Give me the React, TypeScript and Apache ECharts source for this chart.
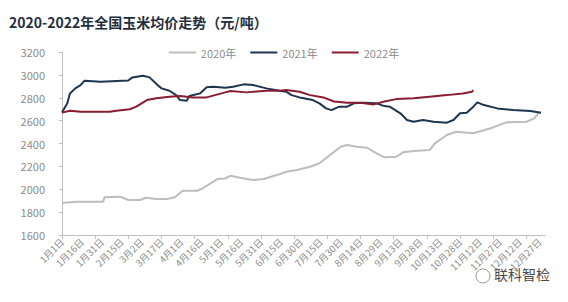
import React, { useEffect, useRef } from "react";
import * as echarts from "echarts";

const titleText = "2020-2022年全国玉米均价走势（元/吨）";
const seriesNames = ["2020年", "2021年", "2022年"];
const watermarkText = "联科智检";

// day-of-year index (0 = 1月1日) and price (元/吨)
const days2020 = [0, 11, 31, 32, 44, 50, 59, 63, 71, 79, 85, 91, 102, 106, 117, 123, 127, 134, 144, 152, 162, 169, 177, 187, 194, 202, 210, 215, 222, 230, 237, 243, 252, 257, 265, 277, 281, 290, 297, 310, 323, 335, 350, 356, 360];
const vals2020 = [1880, 1890, 1890, 1930, 1935, 1906, 1906, 1926, 1915, 1915, 1930, 1987, 1987, 2008, 2089, 2095, 2118, 2101, 2081, 2089, 2124, 2153, 2168, 2197, 2227, 2299, 2372, 2387, 2372, 2363, 2314, 2279, 2284, 2323, 2334, 2343, 2401, 2474, 2503, 2489, 2533, 2585, 2590, 2620, 2678];

const days2021 = [0, 4, 6, 10, 14, 17, 29, 50, 53, 61, 66, 72, 75, 81, 86, 89, 94, 96, 104, 109, 114, 123, 129, 137, 144, 154, 164, 169, 173, 179, 189, 194, 199, 203, 209, 215, 220, 227, 237, 243, 247, 255, 260, 265, 272, 280, 290, 295, 300, 305, 310, 313, 318, 328, 340, 353, 361];
const vals2021 = [2670, 2751, 2838, 2882, 2910, 2949, 2940, 2950, 2978, 2993, 2978, 2911, 2882, 2861, 2823, 2780, 2774, 2815, 2838, 2891, 2896, 2887, 2896, 2917, 2911, 2882, 2861, 2853, 2823, 2803, 2780, 2751, 2707, 2692, 2722, 2722, 2751, 2757, 2751, 2727, 2722, 2664, 2605, 2590, 2605, 2590, 2582, 2605, 2664, 2669, 2722, 2760, 2736, 2707, 2692, 2684, 2669];

const days2022 = [0, 6, 14, 36, 41, 51, 56, 64, 71, 81, 89, 99, 109, 123, 127, 139, 154, 164, 169, 179, 187, 197, 205, 215, 225, 235, 243, 252, 265, 277, 290, 302, 309, 310];
const vals2022 = [2670, 2686, 2678, 2678, 2686, 2699, 2722, 2780, 2795, 2809, 2815, 2803, 2803, 2847, 2859, 2847, 2861, 2861, 2867, 2853, 2823, 2803, 2767, 2757, 2757, 2742, 2767, 2788, 2795, 2809, 2823, 2838, 2853, 2867];

const yMin = 1600;
const yMax = 3200;
const yStep = 200;

const monthLengths = [31, 28, 31, 30, 31, 30, 31, 31, 30, 31, 30, 31];

function buildCategories(): string[] {
  const out: string[] = [];
  monthLengths.forEach((len, m) => {
    for (let d = 1; d <= len; d++) out.push(`${m + 1}月${d}日`);
  });
  return out;
}

const pair = (days: number[], vals: number[]) => days.map((d, i) => [d, vals[i]]);

export default function App() {
  const ref = useRef<HTMLDivElement>(null);
  useEffect(() => {
    document.body.style.margin = "0";
    if (!ref.current) return;
    const chart = echarts.init(ref.current, null, { renderer: "svg" });
    const categories = buildCategories();
    const font = "'Noto Sans CJK SC', 'Noto Sans', sans-serif";
    chart.setOption({
      animation: false,
      backgroundColor: "#ffffff",
      textStyle: { fontFamily: font },
      title: {
        text: titleText,
        left: 4,
        top: 10,
        textStyle: { fontSize: 14, fontWeight: "bold", color: "#1f2f40", fontFamily: font },
      },
      legend: {
        top: 42,
        left: "center",
        itemWidth: 27,
        itemHeight: 2,
        itemGap: 14,
        icon: "rect",
        textStyle: { fontSize: 11, color: "#8c8c8c", fontFamily: font },
        data: seriesNames,
      },
      grid: { left: 62, right: 23, top: 52, bottom: 67, containLabel: false },
      xAxis: {
        type: "category",
        data: categories,
        boundaryGap: false,
        axisLine: { lineStyle: { color: "#bfbfbf", width: 1 } },
        axisTick: { show: true, interval: 24, length: 4, lineStyle: { color: "#bfbfbf" } },
        axisLabel: { interval: 14, rotate: 45, fontSize: 9.5, color: "#8c8c8c", margin: 5, fontFamily: font },
        splitLine: { show: false },
      },
      yAxis: {
        type: "value",
        min: yMin,
        max: yMax,
        interval: yStep,
        axisLine: { show: true, lineStyle: { color: "#bfbfbf", width: 1 } },
        axisTick: { show: true, length: 3, lineStyle: { color: "#bfbfbf" } },
        axisLabel: {
          fontSize: 11,
          color: "#8c8c8c",
          margin: 17,
          fontFamily: font,
          formatter: (v: number) => String(v),
        },
        splitLine: { show: false },
      },
      series: [
        {
          name: seriesNames[0],
          type: "line",
          data: pair(days2020, vals2020),
          showSymbol: false,
          symbol: "none",
          lineStyle: { color: "#bdbdbd", width: 2 },
          itemStyle: { color: "#bdbdbd" },
        },
        {
          name: seriesNames[1],
          type: "line",
          data: pair(days2021, vals2021),
          showSymbol: false,
          symbol: "none",
          lineStyle: { color: "#1d3550", width: 2 },
          itemStyle: { color: "#1d3550" },
        },
        {
          name: seriesNames[2],
          type: "line",
          data: pair(days2022, vals2022),
          showSymbol: false,
          symbol: "none",
          lineStyle: { color: "#8a1c30", width: 2 },
          itemStyle: { color: "#8a1c30" },
        },
      ],
      graphic: [
        {
          type: "circle",
          shape: { cx: 483, cy: 276, r: 7 },
          style: { fill: "none", stroke: "#9a9a9a", lineWidth: 1 },
        },
        {
          type: "text",
          left: 494,
          top: 267,
          style: { text: watermarkText, fontSize: 14, fill: "#4a4a4a", fontFamily: font },
        },
      ],
    });
    return () => chart.dispose();
  }, []);
  return <div ref={ref} style={{ width: 568, height: 302 }} />;
}
